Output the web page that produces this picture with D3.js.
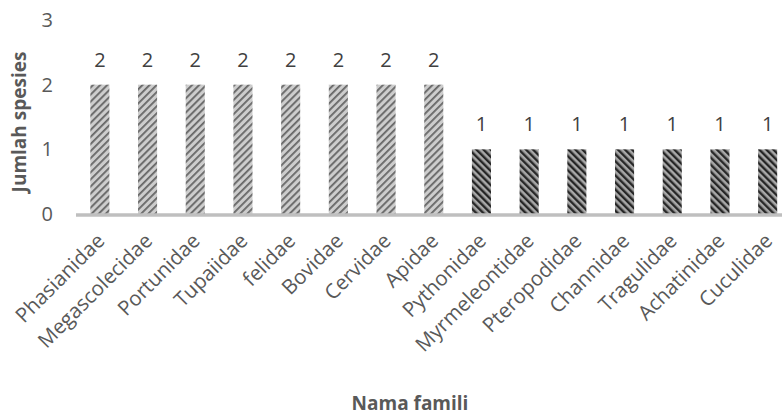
<!DOCTYPE html>
<html>
<head>
<meta charset="utf-8">
<script src="https://cdn.jsdelivr.net/npm/d3@7"></script>
<style>
body { margin: 0; background: white; }
svg { font-family: "Open Sans", sans-serif; }
</style>
</head>
<body>
<svg width="782" height="416"></svg>
<script>
let families = ['Phasianidae', 'Megascolecidae', 'Portunidae', 'Tupaiidae', 'felidae', 'Bovidae', 'Cervidae', 'Apidae',
    'Pythonidae', 'Myrmeleontidae', 'Pteropodidae', 'Channidae', 'Tragulidae', 'Achatinidae', 'Cuculidae'];
let counts = [2, 2, 2, 2, 2, 2, 2, 2, 1, 1, 1, 1, 1, 1, 1];
let yTicks = [0, 1, 2, 3];

let svg = d3.select("svg");
let defs = svg.append('defs');

function stripes(id, bg, fg, w, angle) {
    let p = defs.append('pattern').attr('id', id).attr('patternUnits', 'userSpaceOnUse')
        .attr('width', 5).attr('height', 5).attr('patternTransform', 'rotate(' + angle + ')');
    p.append('rect').attr('width', 5).attr('height', 5).attr('fill', bg);
    p.append('rect').attr('width', w).attr('height', 5).attr('fill', fg);
}
stripes('light', '#cdcdcd', '#666666', 1.8, 45);
stripes('dark', '#a8a8a8', '#262626', 2.4, -45);

let x = d3.scaleBand().domain(families).range([76, 791.5]).paddingInner(0.6).paddingOuter(0.3);
let y = d3.scaleLinear().domain([0, 3]).range([214, 20]);

svg.selectAll('rect.bar').data(families).enter().append('rect')
    .attr('class', 'bar')
    .attr('x', function(d) {return x(d)})
    .attr('width', x.bandwidth())
    .attr('y', function(d, i) {return y(counts[i])})
    .attr('height', function(d, i) {return y(0) - y(counts[i])})
    .attr('fill', function(d, i) {return counts[i] == 2 ? 'url(#light)' : 'url(#dark)'});

svg.append('line').attr('x1', 76).attr('x2', 782).attr('y1', y(0) + 1).attr('y2', y(0) + 1)
    .attr('stroke', '#bfbfbf').attr('stroke-width', 3.5);

svg.selectAll('text.val').data(families).enter().append('text')
    .attr('class', 'val')
    .attr('x', function(d) {return x(d) + x.bandwidth() / 2})
    .attr('y', function(d, i) {return y(counts[i]) - 18})
    .attr('text-anchor', 'middle').attr('font-size', 20).attr('fill', '#404040')
    .text(function(d, i) {return counts[i]});

svg.selectAll('text.ytick').data(yTicks).enter().append('text')
    .attr('class', 'ytick')
    .attr('x', 53).attr('y', function(d) {return y(d)}).attr('dy', '0.35em')
    .attr('text-anchor', 'end').attr('font-size', 20).attr('fill', '#595959')
    .text(function(d) {return d});

svg.selectAll('text.xtick').data(families).enter().append('text')
    .attr('class', 'xtick')
    .attr('transform', function(d) {return 'translate(' + (x(d) + x.bandwidth() / 2 + 6) + ',' + 242 + ') rotate(-45)'})
    .attr('text-anchor', 'end').attr('font-size', 20.5).attr('fill', '#595959')
    .text(function(d) {return d});

svg.append('text').attr('transform', 'translate(26,122) rotate(-90)')
    .attr('text-anchor', 'middle').attr('font-size', 19).attr('font-weight', 'bold').attr('fill', '#595959')
    .text('Jumlah spesies');

svg.append('text').attr('x', 410).attr('y', 410)
    .attr('text-anchor', 'middle').attr('font-size', 19).attr('font-weight', 'bold').attr('fill', '#595959')
    .text('Nama famili');
</script>
</body>
</html>
